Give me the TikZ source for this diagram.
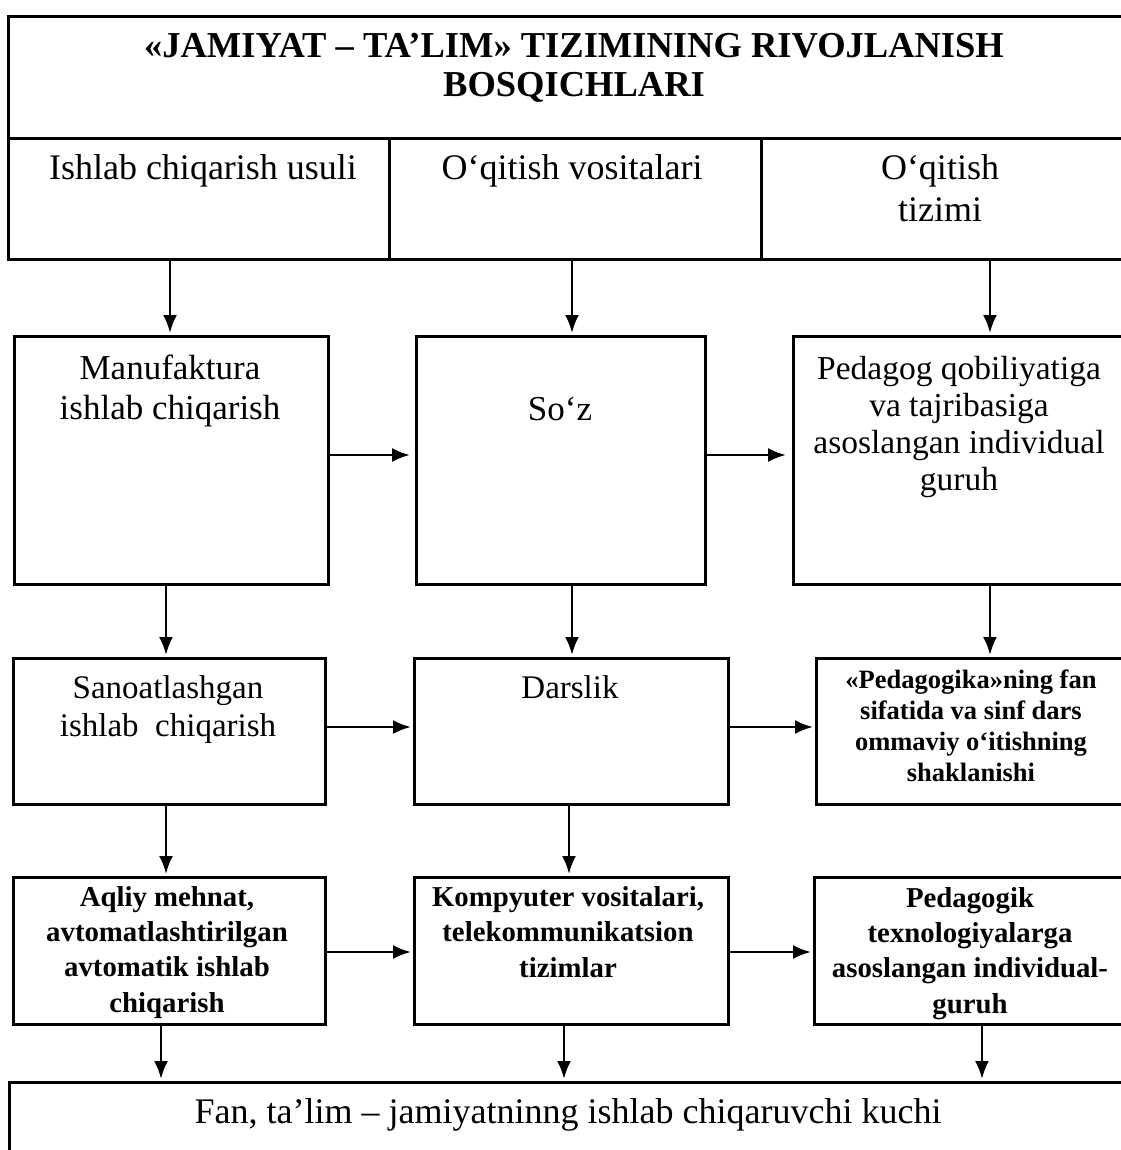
\documentclass[tikz,border=0pt]{standalone}
\usepackage{fontspec}
\setmainfont{Liberation Serif}
\usetikzlibrary{arrows.meta}
\begin{document}
\begin{tikzpicture}[x=1pt,y=-1pt,
  box/.style={draw, line width=3pt, inner sep=0pt, anchor=north west},
  arr/.style={-{Latex[length=18pt,width=14pt]}, line width=2.6pt, shorten >=2pt},
  txt/.style={align=center, anchor=base, inner sep=0pt},
  hdr/.style={font=\fontsize{36}{42}\selectfont},
  ra/.style={font=\fontsize{35}{40}\selectfont},
  rc/.style={font=\fontsize{33.5}{37}\selectfont},
  mid/.style={font=\fontsize{33}{38}\selectfont},
  small/.style={font=\bfseries\fontsize{26.5}{31}\selectfont},
  sml/.style={font=\bfseries\fontsize{28.8}{35.3}\selectfont},
  ttl/.style={font=\bfseries\fontsize{36.5}{39}\selectfont}]
\useasboundingbox (0,0) rectangle (1120,1150);
\fill[white] (0,0) rectangle (1120,1150);
% boxes
\node[box, minimum width=1118pt, minimum height=122pt] (tb) at (7,15) {};
\node[box, minimum width=381pt, minimum height=121pt] (ha) at (7,137) {};
\node[box, minimum width=372pt, minimum height=121pt] (hb) at (388,137) {};
\node[box, minimum width=365pt, minimum height=121pt] (hc) at (760,137) {};
\node[box, minimum width=314pt, minimum height=248pt] (r1a) at (13,335) {};
\node[box, minimum width=289pt, minimum height=248pt] (r1b) at (415,335) {};
\node[box, minimum width=333pt, minimum height=248pt] (r1c) at (792,335) {};
\node[box, minimum width=312pt, minimum height=146pt] (r2a) at (12,657) {};
\node[box, minimum width=314pt, minimum height=146pt] (r2b) at (413,657) {};
\node[box, minimum width=310pt, minimum height=146pt] (r2c) at (815,657) {};
\node[box, minimum width=312pt, minimum height=147pt] (r3a) at (12,876) {};
\node[box, minimum width=314pt, minimum height=147pt] (r3b) at (413,876) {};
\node[box, minimum width=312pt, minimum height=147pt] (r3c) at (813,876) {};
\node[box, minimum width=1117pt, minimum height=90pt] (bt) at (8,1081) {};
% texts (base anchor = baseline of the last line)
\node[txt, ttl] (ttitle) at (574,97) {«JAMIYAT – TA’LIM» TIZIMINING RIVOJLANISH\\BOSQICHLARI};
\node[txt, hdr] (tha) at (203,180) {Ishlab chiqarish usuli};
\node[txt, hdr] (thb) at (572,180) {O‘qitish vositalari};
\node[txt, hdr] (thc) at (940,222) {O‘qitish\\tizimi};
\node[txt, ra] (tr1a) at (170,419) {Manufaktura\\ishlab chiqarish};
\node[txt, ra] (tr1b) at (560,420) {So‘z};
\node[txt, rc] (tr1c) at (959,490) {Pedagog qobiliyatiga\\va tajribasiga\\asoslangan individual\\guruh};
\node[txt, mid] (tr2a) at (168,736) {Sanoatlashgan\\ishlab\ \ chiqarish};
\node[txt, mid] (tr2b) at (570,698) {Darslik};
\node[txt, small] (tr2c) at (971,781) {«Pedagogika»ning fan\\sifatida va sinf dars\\ommaviy o‘itishning\\shaklanishi};
\node[txt, sml] (tr3a) at (167,1012) {Aqliy mehnat,\\avtomatlashtirilgan\\avtomatik ishlab\\chiqarish};
\node[txt, sml] (tr3b) at (568,977) {Kompyuter vositalari,\\telekommunikatsion\\tizimlar};
\node[txt, sml] (tr3c) at (970,1013) {Pedagogik\\texnologiyalarga\\asoslangan individual-\\guruh};
\node[txt, hdr] (tbt) at (568,1123) {Fan, ta’lim – jamiyatninng ishlab chiqaruvchi kuchi};
% arrow guide coordinates
\coordinate (ka) at (170,0);
\coordinate (kb) at (572,0);
\coordinate (kc) at (990,0);
\coordinate (ma) at (166,0);
\coordinate (mb) at (569,0);
\coordinate (la) at (161,0);
\coordinate (lb) at (564,0);
\coordinate (lc) at (982,0);
\coordinate (ya) at (0,455);
\coordinate (yb) at (0,727);
\coordinate (yc) at (0,952);
% vertical arrows
\draw[arr] (ha.south -| ka) -- (r1a.north -| ka);
\draw[arr] (hb.south -| kb) -- (r1b.north -| kb);
\draw[arr] (hc.south -| kc) -- (r1c.north -| kc);
\draw[arr] (r1a.south -| ma) -- (r2a.north -| ma);
\draw[arr] (r1b.south -| kb) -- (r2b.north -| kb);
\draw[arr] (r1c.south -| kc) -- (r2c.north -| kc);
\draw[arr] (r2a.south -| ma) -- (r3a.north -| ma);
\draw[arr] (r2b.south -| mb) -- (r3b.north -| mb);
\draw[arr] (r3a.south -| la) -- (bt.north -| la);
\draw[arr] (r3b.south -| lb) -- (bt.north -| lb);
\draw[arr] (r3c.south -| lc) -- (bt.north -| lc);
% horizontal arrows
\draw[arr, shorten >=5pt] (r1a.east |- ya) -- (r1b.west |- ya);
\draw[arr, shorten >=6pt] (r1b.east |- ya) -- (r1c.west |- ya);
\draw[arr] (r2a.east |- yb) -- (r2b.west |- yb);
\draw[arr] (r2b.east |- yb) -- (r2c.west |- yb);
\draw[arr] (r3a.east |- yc) -- (r3b.west |- yc);
\draw[arr] (r3b.east |- yc) -- (r3c.west |- yc);
\end{tikzpicture}
\end{document}
